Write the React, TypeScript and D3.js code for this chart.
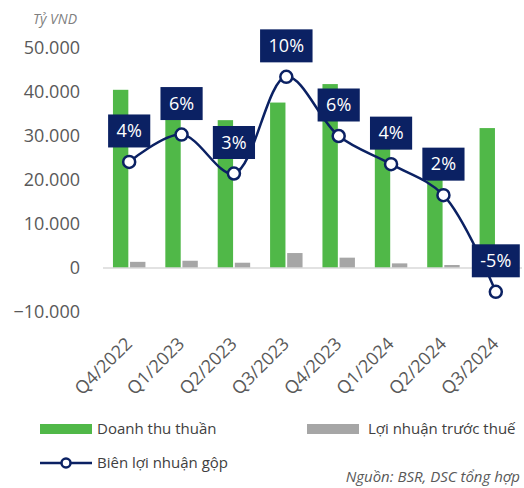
import { useEffect, useRef } from 'react';
import * as d3 from 'd3';

const quarters = ['Q4/2022', 'Q1/2023', 'Q2/2023', 'Q3/2023', 'Q4/2023', 'Q1/2024', 'Q2/2024', 'Q3/2024'];
const revenue = [40500, 35300, 33600, 37600, 41800, 27500, 24000, 31800];
const profit = [1400, 1650, 1200, 3400, 2350, 1050, 680, 0];
const margin = [0.041, 0.06, 0.033, 0.1, 0.059, 0.0395, 0.018, -0.049];
const marginLabels = ['4%', '6%', '3%', '10%', '6%', '4%', '2%', '-5%'];
const yTicks = [-10000, 0, 10000, 20000, 30000, 40000, 50000];

const GREEN = '#50b848';
const GRAY = '#a6a6a6';
const NAVY = '#0b2163';
const FONT = "'Segoe UI', 'Open Sans', sans-serif";

const App = () => {
  const ref = useRef<SVGSVGElement>(null);

  useEffect(() => {
    const svg = d3.select(ref.current);
    svg.selectAll('*').remove();

    const width = 524;
    const height = 488;
    svg.attr('width', width).attr('height', height);

    const left = 103;
    const right = 522;

    const x = d3.scaleBand().domain(quarters).range([left, right]).padding(0);
    const step = x.bandwidth();
    const xs = d3.scaleBand().domain(['rev', 'pbt'])
      .range([step * 0.19, step * 0.81]).paddingInner(0.1);

    const y = d3.scaleLinear().domain([-10000, 50000]).range([312, 48]);
    const ym = d3.scaleLinear().domain([-0.063, 0.12]).range([y(-10000), y(50000)]);

    const fmt = (v: number) => d3.format(',')(v).replace(/,/g, '.');

    // y axis labels
    svg.append('g').selectAll('text')
      .data(yTicks)
      .enter()
      .append('text')
      .attr('x', 80)
      .attr('y', (d) => y(d))
      .attr('dy', '0.35em')
      .attr('text-anchor', 'end')
      .style('font-family', FONT)
      .style('font-size', '18px')
      .attr('fill', '#595959')
      .text((d) => fmt(d));

    svg.append('text')
      .attr('x', 77)
      .attr('y', 24)
      .attr('text-anchor', 'end')
      .style('font-family', FONT)
      .style('font-size', '14px')
      .style('font-style', 'italic')
      .attr('fill', '#7f7f7f')
      .text('Tỷ VND');

    // bars
    const g = svg.append('g');
    g.selectAll('rect.rev')
      .data(revenue)
      .enter()
      .append('rect')
      .attr('x', (_, i) => (x(quarters[i]) ?? 0) + (xs('rev') ?? 0))
      .attr('width', xs.bandwidth())
      .attr('y', (d) => y(Math.max(0, d)))
      .attr('height', (d) => Math.abs(y(d) - y(0)))
      .attr('fill', GREEN);

    g.selectAll('rect.pbt')
      .data(profit)
      .enter()
      .append('rect')
      .attr('x', (_, i) => (x(quarters[i]) ?? 0) + (xs('pbt') ?? 0))
      .attr('width', xs.bandwidth())
      .attr('y', (d) => y(Math.max(0, d)))
      .attr('height', (d) => Math.abs(y(d) - y(0)))
      .attr('fill', GRAY);

    // zero line
    svg.append('line')
      .attr('x1', left)
      .attr('x2', right)
      .attr('y1', y(0))
      .attr('y2', y(0))
      .attr('stroke', '#d9d9d9')
      .attr('stroke-width', 1.5);

    // x labels
    svg.append('g').selectAll('text')
      .data(quarters)
      .enter()
      .append('text')
      .attr('transform', (d) => `translate(${(x(d) ?? 0) + step / 2 + 4},${y(-10000) + 33}) rotate(-45)`)
      .attr('text-anchor', 'end')
      .style('font-family', FONT)
      .style('font-size', '18px')
      .attr('fill', '#595959')
      .text((d) => d);

    // margin line
    const pts: [number, number][] = margin.map((m, i) => [(x(quarters[i]) ?? 0) + step / 2, ym(m)]);
    const line = d3.line().curve(d3.curveCatmullRom.alpha(0.5));
    svg.append('path')
      .attr('d', line(pts))
      .attr('fill', 'none')
      .attr('stroke', NAVY)
      .attr('stroke-width', 2.5);

    svg.append('g').selectAll('circle')
      .data(pts)
      .enter()
      .append('circle')
      .attr('cx', (d) => d[0])
      .attr('cy', (d) => d[1])
      .attr('r', 6)
      .attr('fill', '#fff')
      .attr('stroke', NAVY)
      .attr('stroke-width', 2.5);

    // data labels
    const lab = svg.append('g').selectAll('g')
      .data(pts)
      .enter()
      .append('g')
      .attr('transform', (d) => `translate(${d[0]},${d[1] - 31})`);

    lab.append('rect').attr('fill', NAVY);
    lab.append('text')
      .attr('text-anchor', 'middle')
      .attr('dy', '0.35em')
      .style('font-family', FONT)
      .style('font-size', '18px')
      .attr('fill', '#fff')
      .text((_, i) => marginLabels[i]);
    lab.each(function () {
      const t = d3.select(this).select('text').node() as SVGTextElement;
      const w = t.getComputedTextLength() + 17;
      d3.select(this).select('rect')
        .attr('x', -w / 2)
        .attr('y', -16.5)
        .attr('width', w)
        .attr('height', 33);
    });

    // legend
    const lg = svg.append('g').style('font-family', FONT).style('font-size', '15px');
    lg.append('rect').attr('x', 40).attr('y', 424).attr('width', 52).attr('height', 10).attr('fill', GREEN);
    lg.append('text').attr('x', 97).attr('y', 429).attr('dy', '0.35em').attr('fill', '#404040').text('Doanh thu thuần');
    lg.append('rect').attr('x', 307).attr('y', 424).attr('width', 52).attr('height', 10).attr('fill', GRAY);
    lg.append('text').attr('x', 368).attr('y', 429).attr('dy', '0.35em').attr('fill', '#404040').text('Lợi nhuận trước thuế');
    lg.append('line').attr('x1', 40).attr('x2', 92).attr('y1', 463).attr('y2', 463)
      .attr('stroke', NAVY).attr('stroke-width', 2.5);
    lg.append('circle').attr('cx', 66).attr('cy', 463).attr('r', 4.5)
      .attr('fill', '#fff').attr('stroke', NAVY).attr('stroke-width', 2.5);
    lg.append('text').attr('x', 97).attr('y', 463).attr('dy', '0.35em').attr('fill', '#404040').text('Biên lợi nhuận gộp');

    svg.append('text')
      .attr('x', 520)
      .attr('y', 482)
      .attr('text-anchor', 'end')
      .style('font-family', FONT)
      .style('font-size', '15px')
      .style('font-style', 'italic')
      .attr('fill', '#595959')
      .text('Nguồn: BSR, DSC tổng hợp');
  }, []);

  return <svg ref={ref} style={{ position: 'absolute', left: 0, top: 0 }}></svg>;
};

export default App;
